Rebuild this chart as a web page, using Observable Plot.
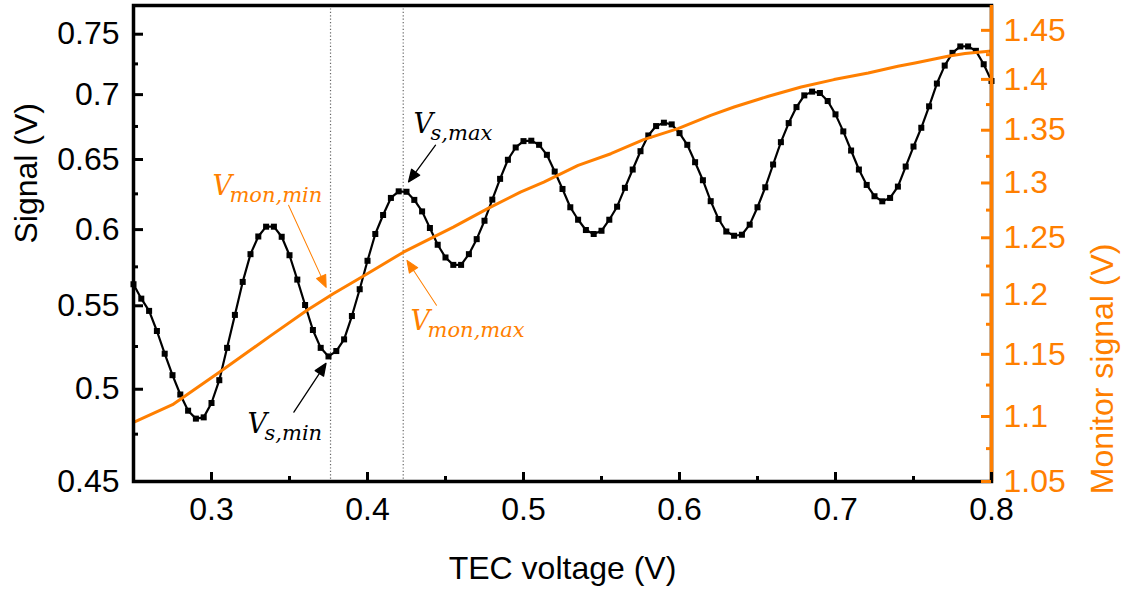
<!DOCTYPE html>
<html>
<head>
<meta charset="utf-8">
<script src="https://cdn.jsdelivr.net/npm/d3@7"></script>
<script src="https://cdn.jsdelivr.net/npm/@observablehq/plot@0.6"></script>
<style>
  html, body { margin: 0; padding: 0; background: white; }
  #chart { width: 1133px; height: 589px; }
</style>
</head>
<body>
<div id="chart"></div>
<script>
// ---- axis ranges and ticks ----
const xDomain = [0.25, 0.8];
const sigDomain = [0.45, 0.775];
const monDomain = [1.05, 1.476];
const xMajor = [0.3, 0.4, 0.5, 0.6, 0.7, 0.8];
const xMinor = [0.35, 0.45, 0.55, 0.65, 0.75];
const sigMajor = [0.45, 0.5, 0.55, 0.6, 0.65, 0.7, 0.75];
const sigMinor = [0.475, 0.525, 0.575, 0.625, 0.675, 0.725];
const monMajor = [1.05, 1.1, 1.15, 1.2, 1.25, 1.3, 1.35, 1.4, 1.45];
const monMajorLabels = ["1.05", "1.1", "1.15", "1.2", "1.25", "1.3", "1.35", "1.4", "1.45"];
const monMinor = [1.075, 1.125, 1.175, 1.225, 1.275, 1.325, 1.375, 1.425];

// ---- signal (black squares), sampled every 0.005 V from 0.25 V ----
const tecStart = 0.25, tecStep = 0.005;
const signal = [
  0.5637, 0.5545, 0.5468, 0.5344, 0.5207, 0.5081, 0.4970, 0.4879, 0.4835, 0.4842, // 0.25-0.295
  0.4922, 0.5052, 0.5242, 0.5443, 0.5652, 0.5834, 0.5953, 0.6020, 0.6020, 0.5951, // 0.30-0.345
  0.5827, 0.5667, 0.5505, 0.5350, 0.5242, 0.5191, 0.5223, 0.5293, 0.5436, 0.5605, // 0.35-0.395
  0.5790, 0.5970, 0.6101, 0.6221, 0.6268, 0.6265, 0.6207, 0.6126, 0.6011, 0.5897, // 0.40-0.445
  0.5812, 0.5763, 0.5763, 0.5834, 0.5935, 0.6061, 0.6209, 0.6358, 0.6498, 0.6590, // 0.45-0.495
  0.6638, 0.6641, 0.6610, 0.6535, 0.6411, 0.6285, 0.6155, 0.6068, 0.5997, 0.5970, // 0.50-0.545
  0.5992, 0.6068, 0.6159, 0.6293, 0.6426, 0.6562, 0.6681, 0.6753, 0.6779, 0.6766, // 0.55-0.595
  0.6699, 0.6610, 0.6480, 0.6348, 0.6198, 0.6073, 0.5987, 0.5958, 0.5965, 0.6034, // 0.60-0.645
  0.6155, 0.6297, 0.6463, 0.6630, 0.6776, 0.6901, 0.6994, 0.7024, 0.7013, 0.6949, // 0.65-0.695
  0.6844, 0.6712, 0.6567, 0.6426, 0.6314, 0.6233, 0.6197, 0.6221, 0.6302, 0.6448, // 0.70-0.745
  0.6597, 0.6740, 0.6907, 0.7089, 0.7236, 0.7342, 0.7396, 0.7396, 0.7359, 0.7247, // 0.75-0.795
  0.7110                                                                           // 0.80
];

// ---- monitor signal (orange line, right axis) ----
const monTec = [0.25, 0.275, 0.305, 0.338, 0.361, 0.378, 0.398, 0.423, 0.455, 0.477, 0.498, 0.513, 0.535, 0.556,
                0.577, 0.599, 0.62, 0.635, 0.657, 0.678, 0.699, 0.721, 0.74, 0.751, 0.772, 0.783, 0.8];
const monitor = [1.0953, 1.1093, 1.1353, 1.1655, 1.1866, 1.2009, 1.2167, 1.2372, 1.2596, 1.2763, 1.2915, 1.3008, 1.3164, 1.3275,
                 1.3409, 1.3515, 1.3645, 1.3726, 1.3832, 1.3924, 1.3998, 1.4064, 1.4132, 1.4166, 1.4234, 1.4261, 1.4288];

// ---- annotations ----
const markerTec = [0.3763, 0.4229];
const annLabels = ["s,max", "mon,min", "mon,max", "s,min"];
const annX = [0.4295, 0.3006, 0.4276, 0.3231];
const annY = [0.6698, 0.6240, 0.5348, 0.4754];
const annIsMon = [false, true, true, false];
const arrX1 = [0.4436, 0.3494, 0.4442, 0.3528];
const arrY1 = [0.6607, 0.6169, 0.5503, 0.4871];
const arrX2 = [0.4263, 0.3735, 0.4253, 0.3734];
const arrY2 = [0.6336, 0.5617, 0.5793, 0.5150];

const ORANGE = "#ff7f00";
const W = 1133, H = 589;
const mL = 133, mR = 142, mT = 5, mB = 108;
const plotW = W - mL - mR, plotH = H - mT - mB;

// map a monitor value onto the signal (left) log scale
const kLog = Math.log(sigDomain[1] / sigDomain[0]) / Math.log(monDomain[1] / monDomain[0]);
const monToSig = v => sigDomain[0] * Math.exp(Math.log(v / monDomain[0]) * kLog);

const sigData = signal.map((s, i) => ({x: tecStart + i * tecStep, y: s}));
const monData = monitor.map((v, i) => ({x: monTec[i], y: monToSig(v)}));
const monLabelMap = new Map(monMajor.map((v, i) => [monToSig(v), monMajorLabels[i]]));

// replicate scales to orient the arrowheads in screen space
const xs = d3.scaleLinear(xDomain, [mL, W - mR]);
const ys = d3.scaleLog(sigDomain, [H - mB, mT]);
const arrows = annLabels.map((l, i) => {
  const dx = xs(arrX2[i]) - xs(arrX1[i]);
  const dy = ys(arrY2[i]) - ys(arrY1[i]);
  return {x: arrX1[i], y: arrY1[i], len: Math.hypot(dx, dy), rot: Math.atan2(dx, -dy) * 180 / Math.PI, mon: annIsMon[i]};
});
const anns = annLabels.map((l, i) => ({x: annX[i], y: annY[i], sub: l, mon: annIsMon[i]}));

const headShape = {
  draw(ctx, l) {
    const hl = 12, hw = 5;
    ctx.moveTo(0, 0);
    ctx.lineTo(0, -(l - hl + 1));
    ctx.moveTo(0, -l);
    ctx.lineTo(-hw, -l + hl);
    ctx.lineTo(hw, -l + hl);
    ctx.closePath();
  }
};

const serif = "DejaVu Serif";
const sans = "Liberation Sans, Arial, sans-serif";

const annMarks = [false, true].flatMap(isMon => {
  const col = isMon ? ORANGE : "black";
  const A = arrows.filter(d => d.mon === isMon);
  const T = anns.filter(d => d.mon === isMon);
  return [
    Plot.vector(A, {x: "x", y: "y", length: "len", rotate: "rot", anchor: "start", shape: headShape,
      stroke: col, fill: col, strokeWidth: isMon ? 1 : 1.3}),
    Plot.text(T, {x: "x", y: "y", text: () => "V", textAnchor: "start", lineAnchor: "bottom",
      fontFamily: serif, fontStyle: "italic", fontSize: 27, fill: col}),
    Plot.text(T, {x: "x", y: "y", text: "sub", textAnchor: "start", lineAnchor: "bottom", dx: 17, dy: 7,
      fontFamily: serif, fontStyle: "italic", fontSize: 21, fill: col})
  ];
});

const chart = Plot.plot({
  width: W, height: H,
  marginTop: mT, marginBottom: mB, marginLeft: mL, marginRight: mR,
  x: {domain: xDomain},
  y: {type: "log", domain: sigDomain},
  length: {type: "identity"},
  style: {fontFamily: sans, background: "white"},
  marks: [
    Plot.ruleX(markerTec, {stroke: "#666", strokeWidth: 1.2, strokeDasharray: "1.2,2.2"}),
    Plot.line(sigData, {x: "x", y: "y", stroke: "black", strokeWidth: 2.2}),
    Plot.dot(sigData, {x: "x", y: "y", symbol: "square", r: 3.4, fill: "black", stroke: "none"}),
    Plot.line(monData, {x: "x", y: "y", stroke: ORANGE, strokeWidth: 3}),
    ...annMarks,
    Plot.frame({stroke: "black", strokeWidth: 3.5}),
    Plot.ruleX([xDomain[1]], {stroke: ORANGE, strokeWidth: 3.5}),
    // inward ticks
    Plot.tickY(sigMajor, {y: d => d, insetRight: plotW - 10, stroke: "black", strokeWidth: 3}),
    Plot.tickY(sigMinor, {y: d => d, insetRight: plotW - 5, stroke: "black", strokeWidth: 3}),
    Plot.tickX(xMajor, {x: d => d, insetTop: plotH - 9, stroke: "black", strokeWidth: 3}),
    Plot.tickX(xMinor, {x: d => d, insetTop: plotH - 5, stroke: "black", strokeWidth: 3}),
    Plot.tickY(monMajor.map(monToSig), {y: d => d, insetLeft: plotW - 10, stroke: ORANGE, strokeWidth: 3}),
    Plot.tickY(monMinor.map(monToSig), {y: d => d, insetLeft: plotW - 5, stroke: ORANGE, strokeWidth: 3}),
    // axes labels
    Plot.axisY(sigMajor, {anchor: "left", tickSize: 0, tickPadding: 14, fontSize: 32, label: null,
      tickFormat: d => String(d), fill: "black"}),
    Plot.axisY(monMajor.map(monToSig), {anchor: "right", tickSize: 0, tickPadding: 12, fontSize: 32, label: null,
      tickFormat: d => monLabelMap.get(d), fill: ORANGE}),
    Plot.axisX(xMajor, {anchor: "bottom", tickSize: 0, tickPadding: 16, fontSize: 32, label: null,
      tickFormat: d => String(d), fill: "black"}),
    // titles
    Plot.text(["Signal (V)"], {frameAnchor: "left", rotate: -90, dx: -107, fontSize: 32, fill: "black"}),
    Plot.text(["Monitor signal (V)"], {frameAnchor: "right", rotate: -90, dx: 111, fontSize: 32, fill: ORANGE}),
    Plot.text(["TEC voltage (V)"], {frameAnchor: "bottom", lineAnchor: "bottom", dy: 97, fontSize: 32, fill: "black"})
  ]
});
document.getElementById("chart").appendChild(chart);
</script>
</body>
</html>
